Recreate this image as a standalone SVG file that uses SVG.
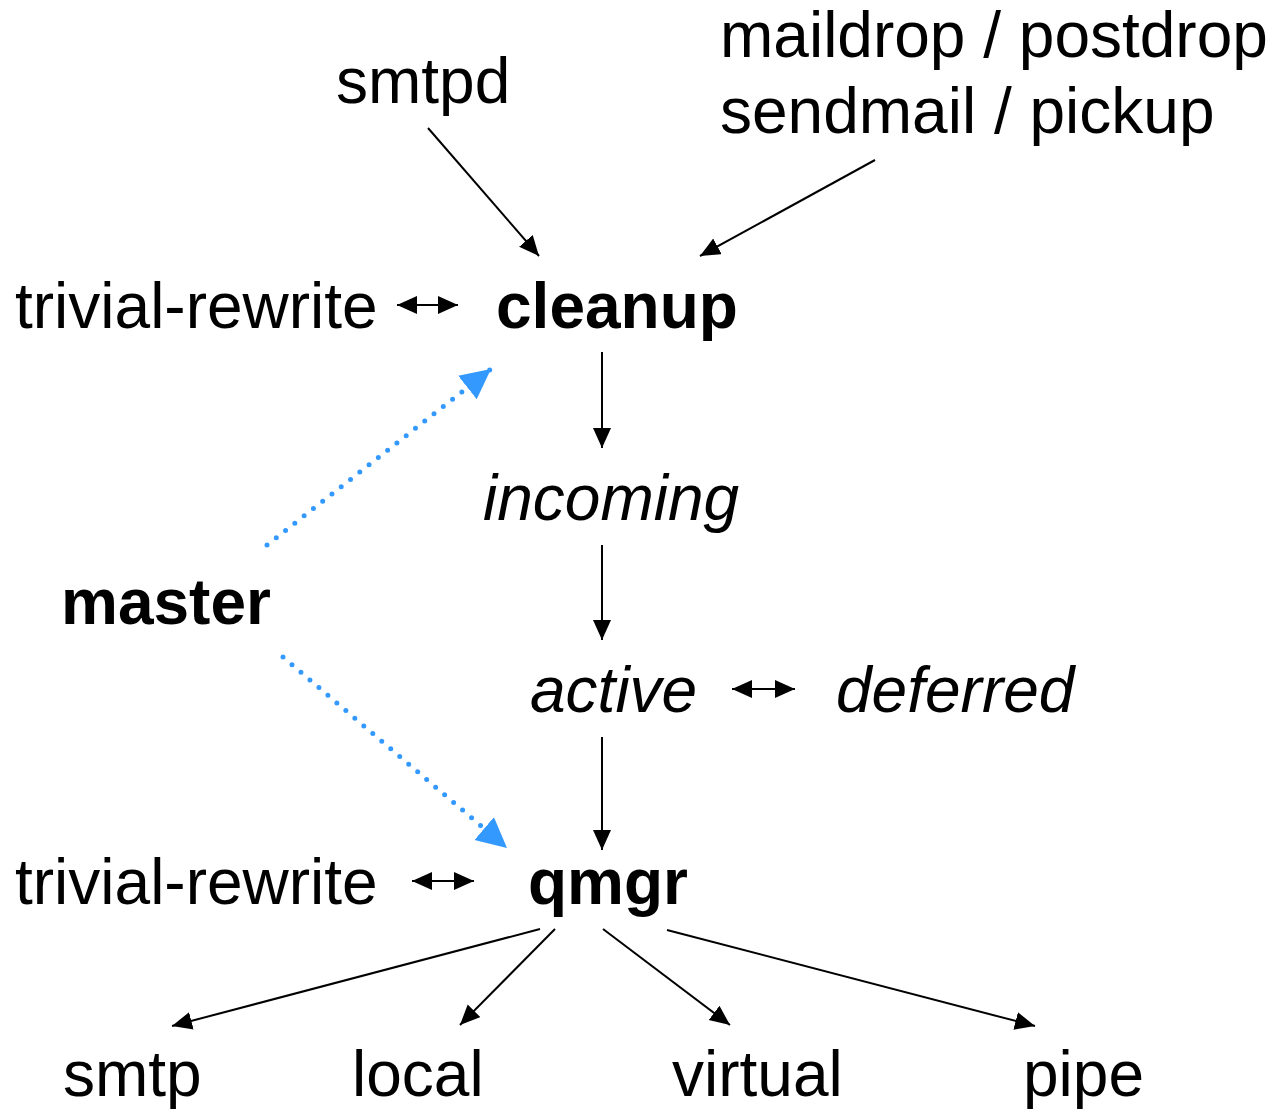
<svg xmlns="http://www.w3.org/2000/svg" width="1270" height="1110" viewBox="0 0 1270 1110">
<style>
text{font-family:"Liberation Sans",Arial,sans-serif;font-size:64px;fill:#000}
.b{font-weight:bold}
.i{font-style:italic}
.c{stroke:#000;stroke-width:2;fill:none}
.d{stroke:#3399ff;stroke-width:5;stroke-linecap:round;stroke-dasharray:0 11.8;fill:none}
</style>
<defs>
<marker id="ah" markerUnits="userSpaceOnUse" markerWidth="22" markerHeight="20" refX="20" refY="9" orient="auto-start-reverse" viewBox="0 0 22 20">
<path d="M0,0 L20,9 L0,18 z" fill="#000"/>
</marker>
<marker id="bh" markerUnits="userSpaceOnUse" markerWidth="32" markerHeight="32" refX="30" refY="15" orient="auto" viewBox="0 0 32 32">
<path d="M0,0 L30,15 L0,30 z" fill="#3399ff"/>
</marker>
</defs>
<g id="connectors">
<line class="c" x1="428" y1="128" x2="539" y2="256" marker-end="url(#ah)"/>
<line class="c" x1="875" y1="160" x2="700" y2="256" marker-end="url(#ah)"/>
<line class="c" x1="397" y1="305" x2="458" y2="305" marker-start="url(#ah)" marker-end="url(#ah)"/>
<line class="c" x1="602" y1="352" x2="602" y2="448" marker-end="url(#ah)"/>
<line class="c" x1="602" y1="545" x2="602" y2="640" marker-end="url(#ah)"/>
<line class="c" x1="732" y1="689" x2="795" y2="689" marker-start="url(#ah)" marker-end="url(#ah)"/>
<line class="c" x1="602" y1="737" x2="602" y2="850" marker-end="url(#ah)"/>
<line class="c" x1="412" y1="881" x2="474" y2="881" marker-start="url(#ah)" marker-end="url(#ah)"/>
<line class="c" x1="540" y1="929" x2="172" y2="1026" marker-end="url(#ah)"/>
<line class="c" x1="555" y1="929" x2="460" y2="1025" marker-end="url(#ah)"/>
<line class="c" x1="603" y1="929" x2="730" y2="1025" marker-end="url(#ah)"/>
<line class="c" x1="667" y1="930" x2="1035" y2="1026" marker-end="url(#ah)"/>
<line class="d" x1="267" y1="545" x2="491" y2="369" marker-end="url(#bh)"/>
<line class="d" x1="283" y1="657" x2="507" y2="848" marker-end="url(#bh)"/>
</g>
<g id="smtpd"><text x="336" y="103">smtpd</text></g>
<g id="maildrop"><text x="720" y="57">maildrop / postdrop</text><text x="720" y="133">sendmail / pickup</text></g>
<g id="trivial-rewrite-1"><text x="15" y="328">trivial-rewrite</text></g>
<g id="cleanup"><text class="b" x="496" y="328">cleanup</text></g>
<g id="incoming"><text class="i" x="483" y="520">incoming</text></g>
<g id="master"><text class="b" x="61" y="624">master</text></g>
<g id="active"><text class="i" x="530" y="712">active</text></g>
<g id="deferred"><text class="i" x="836" y="712">deferred</text></g>
<g id="trivial-rewrite-2"><text x="15" y="904">trivial-rewrite</text></g>
<g id="qmgr"><text class="b" x="528" y="904">qmgr</text></g>
<g id="smtp"><text x="63" y="1096">smtp</text></g>
<g id="local"><text x="352" y="1096">local</text></g>
<g id="virtual"><text x="672" y="1096">virtual</text></g>
<g id="pipe"><text x="1023" y="1096">pipe</text></g>
</svg>
